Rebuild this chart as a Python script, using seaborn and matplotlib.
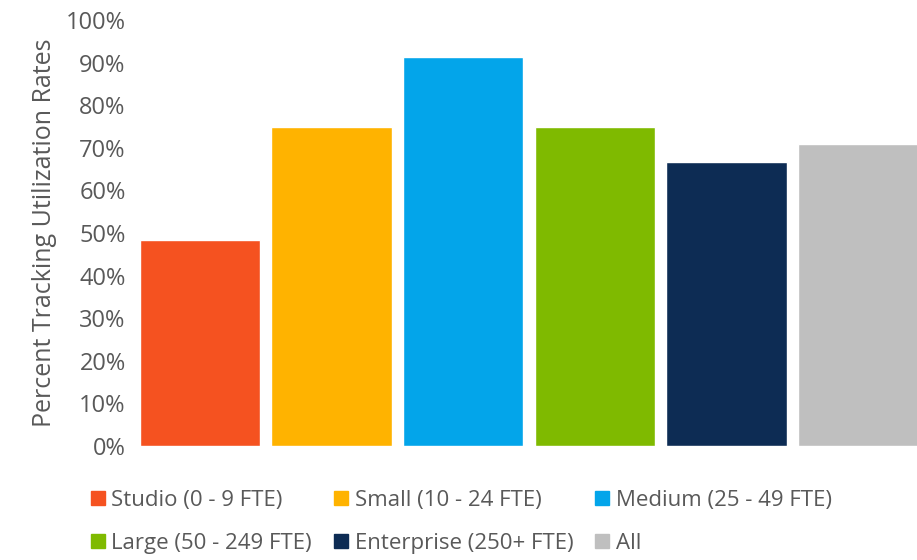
import matplotlib
matplotlib.use("Agg")
import matplotlib.pyplot as plt
import matplotlib.patches as mpatches
import seaborn as sns
import pandas as pd

# Tracking utilization by company size
categories = [
    "Studio (0 - 9 FTE)",
    "Small (10 - 24 FTE)",
    "Medium (25 - 49 FTE)",
    "Large (50 - 249 FTE)",
    "Enterprise (250+ FTE)",
    "All",
]
rates = [0.484, 0.750, 0.914, 0.750, 0.667, 0.709]
colors = ["#F55220", "#FFB300", "#03A5EA", "#7FBA00", "#0D2C54", "#BFBFBF"]
tick_labels = ["0%", "10%", "20%", "30%", "40%", "50%", "60%", "70%", "80%", "90%", "100%"]

df = pd.DataFrame({"category": categories, "rate": rates})

sns.set_theme(style="white")
plt.rcParams["font.family"] = ["Open Sans", "DejaVu Sans"]
text_color = "#595959"

fig = plt.figure(figsize=(9.17, 5.6), dpi=100)
ax = fig.add_axes([134 / 917, 1 - 446 / 560, 790 / 917, 426 / 560])

sns.barplot(
    data=df, x="category", y="rate", hue="category",
    palette=colors, order=categories, hue_order=categories,
    width=0.912, dodge=False, legend=False, saturation=1, ax=ax,
)

ax.set_xlim(-0.5, len(categories) - 0.5)
ax.set_ylim(0, 1)
ax.set_yticks([i / 10 for i in range(11)])
ax.set_yticklabels(tick_labels, fontsize=17, color=text_color)
ax.set_xticks([])
ax.set_xlabel("")
ax.set_ylabel("Percent Tracking Utilization Rates", fontsize=18, color=text_color, labelpad=6)
ax.tick_params(axis="y", length=0, pad=6)
for s in ax.spines.values():
    s.set_visible(False)

# legend fills column-major, so interleave to read left-to-right across rows
patches = [mpatches.Patch(color=c, label=l) for c, l in zip(colors, categories)]
order = [0, 3, 1, 4, 2, 5]
handles = [patches[i] for i in order]
fig.legend(
    handles=handles, ncol=3, loc="upper left",
    bbox_to_anchor=(82 / 917, 1 - 481 / 560),
    frameon=False, fontsize=16, labelcolor=text_color,
    handlelength=0.62, handleheight=0.62, handletextpad=0.3,
    columnspacing=1.0, labelspacing=1.0, borderaxespad=0,
)

fig.savefig("out.png", dpi=100)
